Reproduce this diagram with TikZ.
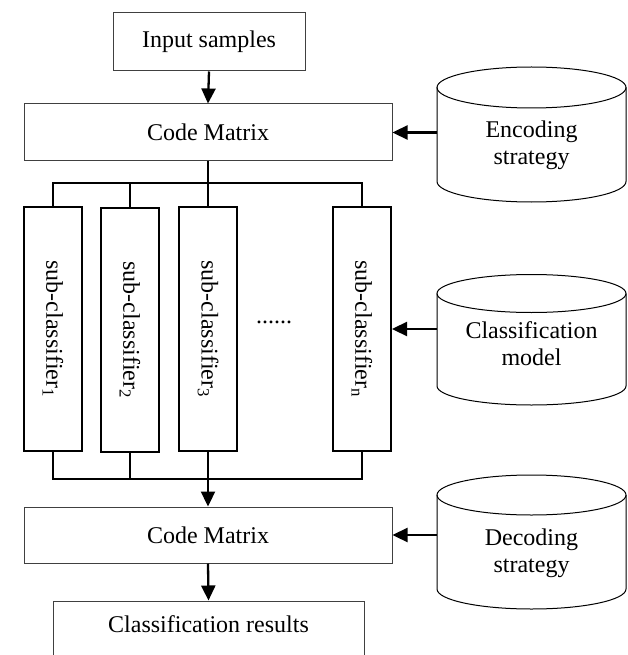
\documentclass[tikz,border=0pt]{standalone}
\usepackage{fontspec}
\usepackage{graphicx}
\setmainfont{Liberation Serif}
\usetikzlibrary{arrows.meta}
\newcommand\dbcyl[5]{%
  \draw[cylline] (#1,#2) ellipse [x radius=#4pt, y radius=#5pt];
  \draw[cylline] (#1-#4,#2) -- (#1-#4,#3) arc[start angle=180,end angle=360,x radius=#4pt,y radius=#5pt] -- (#1+#4,#2);
}
\begin{document}
\begin{tikzpicture}[x=1pt,y=-1pt,
  txt/.style={font=\fontsize{24}{27}\selectfont},
  box/.style={draw=black!75, line width=1pt, inner sep=0pt, txt},
  subbox/.style={draw, line width=2pt, inner sep=0pt, minimum width=58pt, minimum height=244pt, txt},
  cyltext/.style={inner sep=0pt, minimum width=189pt, align=center, txt},
  arr/.style={line width=2.3pt, -{Triangle[length=15pt,width=14pt]}},
  thinline/.style={line width=1.2pt},
  thickline/.style={line width=2.6pt},
  cylline/.style={line width=1pt}
]
\useasboundingbox (0,0) rectangle (627,655);

% cylinders
\dbcyl{531.5}{87.5}{181.5}{94.5}{20.5}
\dbcyl{531.5}{293.5}{386}{94.5}{19}
\dbcyl{531.5}{495}{589}{94.5}{20}
\node[cyltext] (enc) at (531.5,145) {Encoding\\strategy};
\node[cyltext] (cls) at (531.5,344) {Classification\\model};
\node[cyltext] (dec) at (531.5,553) {Decoding\\strategy};

% main column
\node[box, minimum width=192pt, minimum height=58pt] (in) at (209,42) {Input samples};
\node[box, minimum width=368pt, minimum height=57pt] (cm1) at (208,132.5) {Code Matrix};
\node[subbox] (sc1) at (53,329) {\rotatebox{-90}{sub-classifier\textsubscript{1}}};
\node[subbox] (sc2) at (130,330) {\rotatebox{-90}{sub-classifier\textsubscript{2}}};
\node[subbox] (sc3) at (208,329) {\rotatebox{-90}{sub-classifier\textsubscript{3}}};
\node[subbox] (scn) at (362,329) {\rotatebox{-90}{sub-classifier\textsubscript{n}}};
\node[txt, inner sep=0pt] (dots) at (274,322) {......};
\node[box, minimum width=368pt, minimum height=56pt] (cm2) at (208,535) {Code Matrix};
\node[box, minimum width=311pt, minimum height=58pt, text depth=12pt] (res) at (208.5,630) {Classification results};

% connectors
\draw[arr] (in.south) -- (cm1.north);
\coordinate (tb) at (208,183);
\draw[thinline] (cm1.south) -- (tb);
\draw[thinline] (sc1.north) |- (tb -| scn.north) -- (scn.north);
\draw[thinline] (sc2.north) -- (sc2.north |- tb);
\draw[thinline] (sc3.north) -- (sc3.north |- tb);

\coordinate (bb) at (208,479);
\draw[thickline] (sc1.south) |- (bb -| scn.south) -- (scn.south);
\draw[thickline] (sc2.south) -- (sc2.south |- bb);
\draw[arr] (sc3.south) -- (cm2.north);
\draw[arr] (cm2.south) -- (res.north);

\draw[arr] (enc.west |- cm1.east) -- (cm1.east);
\draw[arr] (cls.west |- scn.east) -- (scn.east);
\draw[arr] (dec.west |- cm2.east) -- (cm2.east);
\end{tikzpicture}
\end{document}
